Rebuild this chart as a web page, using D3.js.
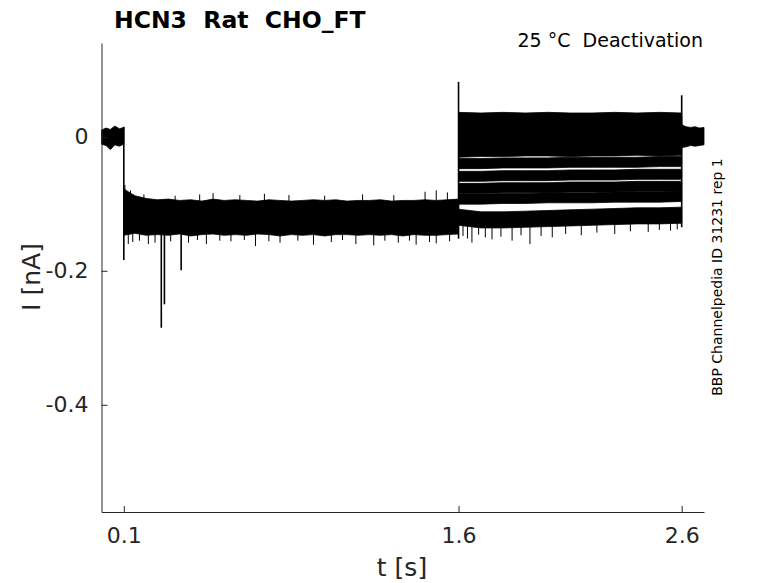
<!DOCTYPE html>
<html>
<head>
<meta charset="utf-8">
<script src="https://d3js.org/d3.v7.min.js"></script>
<style>
    body { margin: 0; background: #fff; }
    text { font-family: "DejaVu Sans", sans-serif; fill: #262626; white-space: pre; }
</style>
</head>
<body>
<div id="chart"></div>
<script>
// tick values and labels
var xTicks = [0.1, 1.6, 2.6];
var xTickLabels = ["0.1", "1.6", "2.6"];
var yTicks = [-0.4, -0.2, 0];
var yTickLabels = ["-0.4", "-0.2", "0"];

// holding level before the step (envelope of all sweeps)
var preT = [0, 0.02, 0.04, 0.06, 0.08, 0.1];
var preHi = [0.010, 0.013, 0.011, 0.016, 0.012, 0.014];
var preLo = [-0.011, -0.013, -0.019, -0.012, -0.014, -0.011];

// hyperpolarising step, 0.1 - 1.6 s (envelope of all sweeps)
var holdT = [0.10, 0.15, 0.20, 0.25, 0.30, 0.35, 0.40, 0.45, 0.50, 0.55, 0.60,
    0.65, 0.70, 0.75, 0.80, 0.85, 0.90, 0.95, 1.00, 1.05, 1.10, 1.15, 1.20,
    1.25, 1.30, 1.35, 1.40, 1.45, 1.50, 1.55, 1.60];
var holdHi = [-0.078, -0.088, -0.092, -0.094, -0.093, -0.095, -0.094, -0.096, -0.093, -0.095,
    -0.094, -0.095, -0.096, -0.094, -0.095, -0.096, -0.095, -0.094, -0.095, -0.094,
    -0.096, -0.095, -0.095, -0.094, -0.096, -0.095, -0.095, -0.094, -0.095, -0.094, -0.093];
var holdLo = [-0.147, -0.144, -0.147, -0.146, -0.147, -0.145, -0.148, -0.146, -0.145, -0.147,
    -0.146, -0.147, -0.145, -0.146, -0.148, -0.146, -0.147, -0.146, -0.148, -0.146,
    -0.146, -0.147, -0.146, -0.147, -0.146, -0.148, -0.146, -0.147, -0.147, -0.146, -0.145];

// tail currents 1.6 - 2.6 s, one centre line per sweep
var tailT = [1.6, 1.7, 1.8, 1.9, 2.0, 2.1, 2.2, 2.3, 2.4, 2.5, 2.6];
var tail1 = [0.029, 0.028, 0.029, 0.028, 0.029, 0.028, 0.028, 0.029, 0.028, 0.029, 0.028];
var tail2 = [0.021, 0.022, 0.021, 0.021, 0.022, 0.021, 0.021, 0.022, 0.021, 0.021, 0.021];
var tail3 = [0.013, 0.013, 0.014, 0.013, 0.013, 0.014, 0.013, 0.013, 0.014, 0.013, 0.013];
var tail4 = [0.005, 0.006, 0.005, 0.006, 0.006, 0.005, 0.006, 0.006, 0.005, 0.006, 0.006];
var tail5 = [-0.004, -0.003, -0.004, -0.003, -0.003, -0.004, -0.003, -0.003, -0.004, -0.003, -0.003];
var tail6 = [-0.014, -0.013, -0.013, -0.012, -0.013, -0.012, -0.012, -0.013, -0.012, -0.012, -0.012];
var tail7 = [-0.023, -0.022, -0.022, -0.021, -0.021, -0.022, -0.021, -0.021, -0.020, -0.021, -0.020];
var tail8 = [-0.040, -0.040, -0.039, -0.039, -0.039, -0.038, -0.038, -0.038, -0.038, -0.037, -0.037];
var tail9 = [-0.059, -0.059, -0.058, -0.058, -0.058, -0.057, -0.057, -0.057, -0.056, -0.056, -0.056];
var tail10 = [-0.077, -0.077, -0.076, -0.076, -0.076, -0.075, -0.075, -0.075, -0.074, -0.074, -0.074];
var tail11 = [-0.093, -0.093, -0.092, -0.092, -0.091, -0.091, -0.091, -0.090, -0.090, -0.090, -0.089];
var tail12 = [-0.120, -0.124, -0.124, -0.123, -0.122, -0.121, -0.120, -0.119, -0.118, -0.118, -0.117];
var tailHalf = [0.0075, 0.0075, 0.0075, 0.0075, 0.0075, 0.0075, 0.0075, 0.0075, 0.0075, 0.0075, 0.0075, 0.012];

// back to holding level, 2.6 - 2.7 s
var postT = [2.6, 2.62, 2.64, 2.66, 2.68, 2.7];
var postHi = [0.018, 0.015, 0.014, 0.015, 0.013, 0.014];
var postLo = [-0.016, -0.015, -0.013, -0.014, -0.013, -0.012];

// transients and single spikes (time, low end, high end)
var spikeT = [0.100, 0.268, 0.282, 0.357, 1.600, 2.600,
    // downward noise on the step
    0.12, 0.14, 0.17, 0.21, 0.24, 0.31, 0.39, 0.43, 0.47, 0.53, 0.58, 0.64, 0.69, 0.75,
    0.80, 0.88, 0.95, 1.03, 1.08, 1.14, 1.22, 1.27, 1.33, 1.38, 1.41, 1.47, 1.50, 1.56,
    // upward noise on the step
    0.105, 0.13, 0.19, 0.33, 0.44, 0.50, 0.62, 0.73, 0.84, 1.00, 1.17, 1.31, 1.45, 1.50, 1.55,
    // lowest tail sweep
    1.62, 1.64, 1.66, 1.69, 1.72, 1.75, 1.79, 1.84, 1.88, 1.92, 1.97, 2.02, 2.08, 2.15,
    2.22, 2.30, 2.37, 2.45, 2.50, 2.55, 2.58];
var spikeLo = [-0.184, -0.285, -0.250, -0.199, -0.152, -0.135,
    -0.160, -0.157, -0.155, -0.160, -0.158, -0.156, -0.158, -0.154, -0.160, -0.155, -0.156, -0.154, -0.163, -0.156,
    -0.158, -0.155, -0.161, -0.157, -0.154, -0.160, -0.162, -0.155, -0.158, -0.155, -0.161, -0.157, -0.159, -0.156,
    -0.100, -0.100, -0.100, -0.100, -0.100, -0.100, -0.100, -0.100, -0.100, -0.100, -0.100, -0.100, -0.100, -0.100, -0.100,
    -0.148, -0.152, -0.158, -0.146, -0.150, -0.153, -0.149, -0.155, -0.147, -0.160, -0.148, -0.150, -0.145, -0.147,
    -0.143, -0.145, -0.141, -0.142, -0.139, -0.140, -0.138];
var spikeHi = [0.015, -0.120, -0.120, -0.130, 0.082, 0.062,
    -0.140, -0.140, -0.140, -0.140, -0.140, -0.140, -0.140, -0.140, -0.140, -0.140, -0.140, -0.140, -0.140, -0.140,
    -0.140, -0.140, -0.140, -0.140, -0.140, -0.140, -0.140, -0.140, -0.140, -0.140, -0.140, -0.140, -0.140, -0.140,
    -0.072, -0.080, -0.086, -0.088, -0.086, -0.084, -0.087, -0.085, -0.087, -0.088, -0.086, -0.087, -0.082, -0.080, -0.083,
    -0.125, -0.125, -0.125, -0.125, -0.125, -0.125, -0.125, -0.125, -0.125, -0.125, -0.125, -0.125, -0.125, -0.120,
    -0.120, -0.120, -0.120, -0.115, -0.115, -0.115, -0.115];

function init() {
    var w = 778;
    var h = 583;

    var x = d3.scaleLinear().domain([0, 2.7]).range([101.5, 704]);
    var y = d3.scaleLinear().domain([-0.56, 0.14]).range([512, 43]);

    var svg = d3.select("#chart")
        .append("svg")
        .attr("width", w)
        .attr("height", h);

    svg.append("rect").attr("width", w).attr("height", h).attr("fill", "#fff");

    var band = d3.area()
        .x(function (d) { return x(d.t); })
        .y0(function (d) { return y(d.lo); })
        .y1(function (d) { return y(d.hi); });

    function zipBand(ts, lo, hi) {
        return ts.map(function (t, i) { return { t: t, lo: lo[i], hi: hi[i] }; });
    }

    var bands = [
        zipBand(preT, preLo, preHi),
        zipBand(holdT, holdLo, holdHi),
        zipBand(postT, postLo, postHi)
    ];

    var tails = [tail1, tail2, tail3, tail4, tail5, tail6, tail7, tail8, tail9, tail10, tail11, tail12];
    tails.forEach(function (c, k) {
        bands.push(tailT.map(function (t, i) {
            return { t: t, lo: c[i] - tailHalf[k], hi: c[i] + tailHalf[k] };
        }));
    });

    var plot = svg.append("g");

    plot.selectAll("path.band")
        .data(bands)
        .enter()
        .append("path")
        .attr("class", "band")
        .attr("d", band)
        .attr("fill", "#000")
        .attr("stroke", "#000")
        .attr("stroke-width", 0.8);

    plot.selectAll("line.spike")
        .data(spikeT)
        .enter()
        .append("line")
        .attr("class", "spike")
        .attr("x1", function (d) { return x(d); })
        .attr("x2", function (d) { return x(d); })
        .attr("y1", function (d, i) { return y(spikeLo[i]); })
        .attr("y2", function (d, i) { return y(spikeHi[i]); })
        .attr("stroke", "#000")
        .attr("stroke-width", function (d, i) { return i < 6 ? 1.6 : 1; });

    // axes, ticks pointing inward like matlab
    var xAxis = d3.axisBottom(x)
        .tickValues(xTicks)
        .tickFormat(function (d, i) { return xTickLabels[i]; })
        .tickSize(-6)
        .tickSizeOuter(0);

    var yAxis = d3.axisLeft(y)
        .tickValues(yTicks)
        .tickFormat(function (d, i) { return yTickLabels[i]; })
        .tickSize(-6)
        .tickSizeOuter(0);

    var gx = svg.append("g")
        .attr("transform", "translate(0,512)")
        .call(xAxis);
    gx.selectAll("text")
        .attr("y", 31)
        .attr("dy", 0)
        .style("font-size", "22px");

    var gy = svg.append("g")
        .attr("transform", "translate(101.5,0)")
        .call(yAxis);
    gy.selectAll("text")
        .attr("x", -13)
        .style("font-size", "22px");

    svg.selectAll(".domain, .tick line")
        .attr("stroke", "#262626")
        .attr("stroke-width", 1);

    // labels
    svg.append("text")
        .attr("x", 402)
        .attr("y", 576)
        .attr("text-anchor", "middle")
        .style("font-size", "25px")
        .text("t [s]");

    svg.append("text")
        .attr("transform", "translate(40,277) rotate(-90)")
        .attr("text-anchor", "middle")
        .style("font-size", "25px")
        .text("I [nA]");

    svg.append("text")
        .attr("x", 114)
        .attr("y", 28)
        .style("font-size", "23.5px")
        .style("font-weight", "bold")
        .style("fill", "#000")
        .text("HCN3  Rat  CHO_FT");

    svg.append("text")
        .attr("x", 703)
        .attr("y", 47)
        .attr("text-anchor", "end")
        .style("font-size", "19px")
        .style("fill", "#000")
        .text("25 °C  Deactivation");

    svg.append("text")
        .attr("transform", "translate(722,277) rotate(-90)")
        .attr("text-anchor", "middle")
        .style("font-size", "14px")
        .style("fill", "#000")
        .text("BBP Channelpedia ID 31231 rep 1");
}

window.onload = init;
</script>
</body>
</html>
